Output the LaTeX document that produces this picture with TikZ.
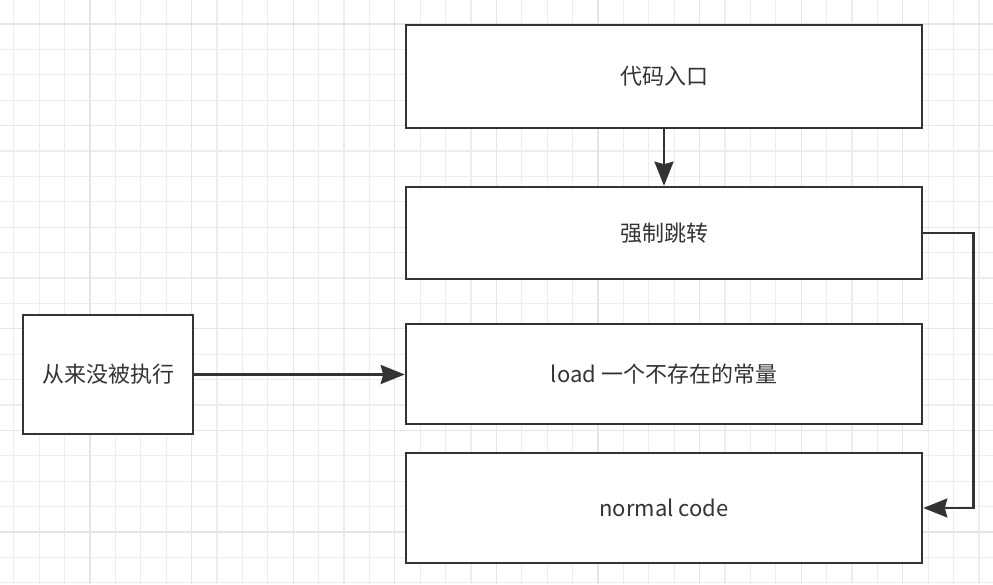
\documentclass[tikz,border=0pt]{standalone}
\usepackage{fontspec}
\setmainfont{Noto Sans CJK SC}
\usepackage{xcolor}
\usetikzlibrary{arrows.meta}

\begin{document}
\begin{tikzpicture}[x=1pt,y=-1pt,
    box/.style={draw=black!80,line width=2.6pt,fill=white,text=black!80,
      font=\fontsize{22}{26}\selectfont,inner sep=0pt},
    flow/.style={draw=black!80,line width=2.6pt,
      -{Stealth[length=24pt,width=19pt,inset=2.5pt]}},
    minorgrid/.style={color=black!7,line width=1.2pt},
    majorgrid/.style={color=black!10,line width=1.2pt}]
  \useasboundingbox (0,0) rectangle (993,584);
  % grid
  \fill[white] (0,0) rectangle (993,584);
  \foreach \k in {0,...,38}
    \draw[minorgrid] (13.8+25.4*\k,0) -- (13.8+25.4*\k,584);
  \foreach \k in {1,...,23}
    \draw[minorgrid] (0,-1.4+25.4*\k) -- (993,-1.4+25.4*\k);
  \foreach \k in {0,...,8}
    \draw[majorgrid] (90+101.6*\k,0) -- (90+101.6*\k,584);
  \foreach \k in {0,...,5}
    \draw[majorgrid] (0,24+101.6*\k) -- (993,24+101.6*\k);
  % boxes
  \node[box,minimum width=516pt,minimum height=103pt] (entry) at (664,76.5) {代码入口};
  \node[box,minimum width=516pt,minimum height=92pt] (jump) at (664,233) {强制跳转};
  \node[box,minimum width=516pt,minimum height=100pt] (load) at (664,374) {load 一个不存在的常量};
  \node[box,minimum width=516pt,minimum height=110pt] (normal) at (664,508) {normal code};
  \node[box,minimum width=170pt,minimum height=119pt] (never) at (108,374.5) {从来没被执行};
  % arrows
  \draw[flow] (entry.south) -- (jump.north);
  \draw[flow] (jump.east) -- ++(50,0) |- (normal.east);
  \draw[flow] (never.east) -- (never.east -| load.west);
\end{tikzpicture}
\end{document}
